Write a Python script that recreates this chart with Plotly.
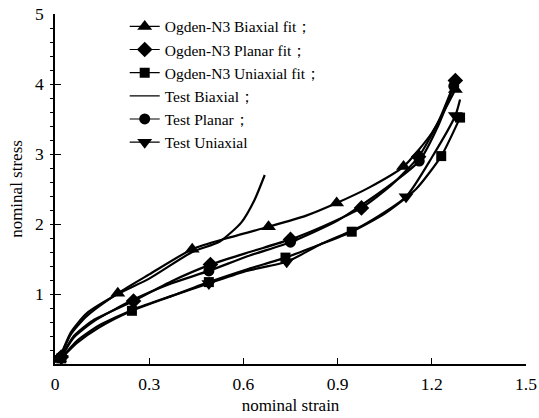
import plotly.graph_objects as go

# ---- data (nominal strain, nominal stress); marker flag: 1 = marker drawn ----
bx_fit_x = [0.015, 0.05, 0.10, 0.20, 0.30, 0.437, 0.55, 0.68, 0.80, 0.897, 1.00, 1.11, 1.20, 1.275]
bx_fit_y = [0.08, 0.42, 0.68, 1.01, 1.28, 1.64, 1.80, 1.96, 2.12, 2.30, 2.52, 2.82, 3.30, 3.92]
bx_fit_m = [1, 0, 0, 1, 0, 1, 0, 1, 0, 1, 0, 1, 0, 1]

pl_fit_x = [0.02, 0.06, 0.12, 0.25, 0.37, 0.495, 0.62, 0.75, 0.86, 0.976, 1.07, 1.158, 1.22, 1.275]
pl_fit_y = [0.10, 0.40, 0.62, 0.90, 1.18, 1.42, 1.60, 1.78, 1.98, 2.23, 2.55, 2.96, 3.45, 4.05]
pl_fit_m = [1, 0, 0, 1, 0, 1, 0, 1, 0, 1, 0, 1, 0, 1]

ux_fit_x = [0.02, 0.07, 0.14, 0.245, 0.37, 0.49, 0.61, 0.734, 0.84, 0.945, 1.05, 1.15, 1.23, 1.29]
ux_fit_y = [0.08, 0.30, 0.52, 0.76, 0.97, 1.17, 1.35, 1.52, 1.70, 1.89, 2.15, 2.50, 2.97, 3.52]
ux_fit_m = [1, 0, 0, 1, 0, 1, 0, 1, 0, 1, 0, 0, 1, 1]

bx_test_x = [0.0, 0.02, 0.05, 0.10, 0.20, 0.30, 0.437, 0.525, 0.593, 0.635, 0.668]
bx_test_y = [0.02, 0.15, 0.45, 0.72, 1.00, 1.22, 1.60, 1.75, 2.02, 2.34, 2.70]

pl_test_x = [0.02, 0.06, 0.12, 0.25, 0.37, 0.49, 0.62, 0.75, 0.90, 1.05, 1.16, 1.22, 1.27]
pl_test_y = [0.10, 0.38, 0.60, 0.92, 1.15, 1.33, 1.55, 1.74, 2.05, 2.50, 2.90, 3.40, 3.97]
pl_test_m = [1, 0, 0, 0, 0, 1, 0, 1, 0, 0, 1, 0, 1]

ux_test_x = [0.02, 0.07, 0.14, 0.25, 0.37, 0.49, 0.61, 0.738, 0.85, 0.98, 1.118, 1.20, 1.275, 1.29]
ux_test_y = [0.08, 0.33, 0.55, 0.78, 0.97, 1.15, 1.33, 1.46, 1.72, 1.98, 2.39, 2.95, 3.55, 3.78]
ux_test_m = [1, 0, 0, 0, 0, 1, 0, 1, 0, 0, 1, 0, 1, 0]

series_names = ["Ogden-N3 Biaxial fit；", "Ogden-N3 Planar fit；", "Ogden-N3 Uniaxial fit；",
                "Test Biaxial；", "Test Planar；", "Test Uniaxial"]

x_ticks = [0, 0.3, 0.6, 0.9, 1.2, 1.5]
x_tick_text = ["0", "0.3", "0.6", "0.9", "1.2", "1.5"]
y_ticks = [1, 2, 3, 4, 5]
y_tick_text = ["1", "2", "3", "4", "5"]

FONT = "Liberation Serif, Times New Roman, serif"
MS = 11
LW = 2.2

def sizes(flags, s):
    return [s if f else 0 for f in flags]

fig = go.Figure()
series = [
    (bx_fit_x, bx_fit_y, bx_fit_m, "triangle-up", MS + 2),
    (pl_fit_x, pl_fit_y, pl_fit_m, "diamond", MS + 1),
    (ux_fit_x, ux_fit_y, ux_fit_m, "square", MS - 1),
    (bx_test_x, bx_test_y, None, None, 0),
    (pl_test_x, pl_test_y, pl_test_m, "circle", MS),
    (ux_test_x, ux_test_y, ux_test_m, "triangle-down", MS + 2),
]
for name, (xs, ys, flags, sym, s) in zip(series_names, series):
    line = dict(color="black", width=LW, shape="spline", smoothing=0.6)
    if flags is None:
        fig.add_trace(go.Scatter(x=xs, y=ys, mode="lines", line=line,
                                 showlegend=False, legendgroup=name))
        fig.add_trace(go.Scatter(x=[None], y=[None], name=name, mode="lines",
                                 line=dict(color="black", width=1.2), legendgroup=name))
    else:
        fig.add_trace(go.Scatter(x=xs, y=ys, mode="lines+markers", line=line,
                                 marker=dict(symbol=sym, size=sizes(flags, s), color="black",
                                             opacity=1, line=dict(width=0)),
                                 showlegend=False, legendgroup=name))
        fig.add_trace(go.Scatter(x=[None], y=[None], name=name, mode="lines+markers",
                                 line=dict(color="black", width=1.2),
                                 marker=dict(symbol=sym, size=s, color="black", opacity=1),
                                 legendgroup=name))

fig.update_layout(
    width=539, height=418,
    margin=dict(l=55, r=13, t=14, b=54, autoexpand=False),
    paper_bgcolor="white", plot_bgcolor="white",
    font=dict(family=FONT, size=17, color="black"),
    showlegend=True,
    legend=dict(x=0.148, y=1.012, xanchor="left", yanchor="top",
                bgcolor="rgba(0,0,0,0)", itemsizing="trace",
                font=dict(family=FONT, size=15.5, color="black"),
                tracegroupgap=0),
    xaxis=dict(range=[0, 1.5], tickvals=x_ticks, ticktext=x_tick_text,
               showgrid=False, zeroline=False, showline=True, linecolor="black",
               linewidth=1.5, ticks="inside", ticklen=6, tickcolor="black",
               tickfont=dict(family=FONT, size=17.5), ticklabelstandoff=3,
               ticklabeloverflow="allow", automargin=False,
               title=dict(text="nominal strain", font=dict(family=FONT, size=17), standoff=6)),
    yaxis=dict(range=[0, 5], tickvals=y_ticks, ticktext=y_tick_text,
               showgrid=False, zeroline=False, showline=True, linecolor="black",
               linewidth=1.5, ticks="inside", ticklen=6, tickcolor="black",
               tickfont=dict(family=FONT, size=17.5), ticklabelstandoff=6, automargin=False,
               minor=dict(dtick=0.2, ticks="outside", ticklen=3, tickcolor="black", showgrid=False),
               title=dict(text="nominal stress", font=dict(family=FONT, size=17), standoff=8)),
)

fig.write_html("out.html", config={"displayModeBar": False},
               post_script="document.body.style.margin='0';")
